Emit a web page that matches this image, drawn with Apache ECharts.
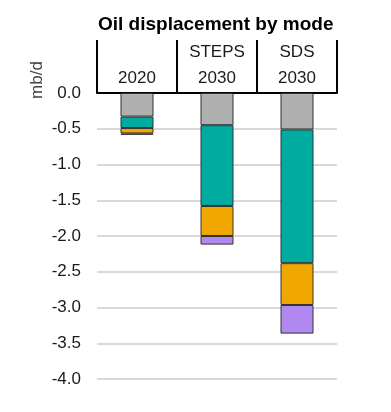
<!DOCTYPE html>
<html><head><meta charset="utf-8">
<script src="https://cdn.jsdelivr.net/npm/echarts@6/dist/echarts.min.js"></script>
<style>html,body{margin:0;padding:0;background:#fff}#c{width:391px;height:412px}</style>
</head><body><div id="c"></div>
<script>
const categories = ['\n2020', 'STEPS\n2030', 'SDS\n2030'];
const seriesNames = ['Mode A', 'Mode B', 'Mode C', 'Mode D'];
const modeA = [-0.33, -0.45, -0.51];
const modeB = [-0.16, -1.13, -1.87];
const modeC = [-0.075, -0.42, -0.585];
const modeD = [-0.02, -0.12, -0.40];
const yTicks = [0, -0.5, -1, -1.5, -2, -2.5, -3, -3.5, -4];
const colors = ['#b0b0b0', '#00ab9f', '#f0a800', '#b088f0'];

const chart = echarts.init(document.getElementById('c'));
const values = [modeA, modeB, modeC, modeD];
chart.setOption({
  animation: false,
  title: {
    text: 'Oil displacement by mode', left: 98, top: 15, padding: 0,
    textStyle: {fontFamily: 'Liberation Sans, Arial', fontSize: 19, fontWeight: 'bold', color: '#000'}
  },
  graphic: [{
    type: 'text', x: 37, y: 80, rotation: Math.PI / 2,
    style: {text: 'mb/d', fontFamily: 'Liberation Sans, Arial', fontSize: 17, fill: '#404040', align: 'center', verticalAlign: 'middle'}
  }],
  grid: {left: 97, right: 54, top: 93, bottom: 33},
  xAxis: {
    type: 'category', data: categories, position: 'top',
    axisLine: {lineStyle: {color: '#000', width: 2}},
    axisTick: {show: true, length: 53, lineStyle: {color: '#000', width: 2}},
    axisLabel: {margin: 2, fontFamily: 'Liberation Sans, Arial', fontSize: 17, lineHeight: 26, color: '#1a1a1a'}
  },
  yAxis: {
    type: 'value', min: -4, max: 0, interval: 0.5,
    axisLine: {show: false}, axisTick: {show: false},
    splitLine: {lineStyle: {color: '#d9d9d9', width: 2}},
    axisLabel: {
      margin: 16, fontFamily: 'Liberation Sans, Arial', fontSize: 17, color: '#1a1a1a',
      formatter: v => v.toFixed(1)
    }
  },
  series: values.map((d, i) => ({
    type: 'bar', name: seriesNames[i], stack: 'total', data: d, barWidth: 33,
    itemStyle: {color: colors[i], borderColor: '#333', borderWidth: 1}
  }))
});
</script></body></html>
